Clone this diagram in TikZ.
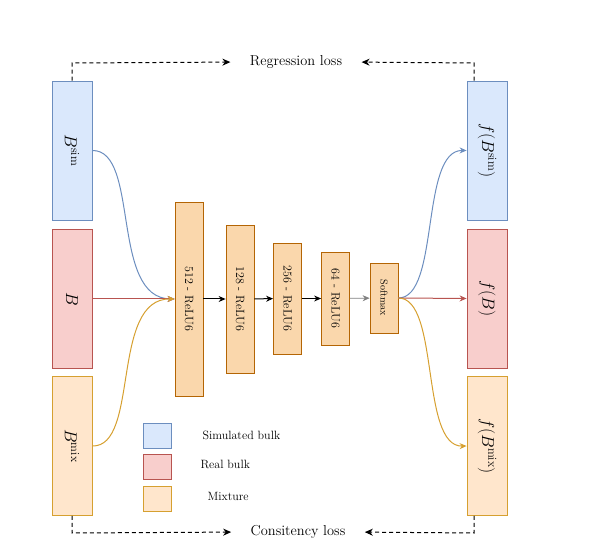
\documentclass[tikz,border=0pt]{standalone}
\usetikzlibrary{arrows.meta}
\definecolor{bfill}{HTML}{DAE8FC}\definecolor{bdraw}{HTML}{6C8EBF}
\definecolor{rfill}{HTML}{F8CECC}\definecolor{rdraw}{HTML}{B85450}
\definecolor{ofill}{HTML}{FFE6CC}\definecolor{odraw}{HTML}{D6A030}
\definecolor{hfill}{HTML}{FAD7AC}\definecolor{hdraw}{HTML}{B46504}
\begin{document}
\begin{tikzpicture}[x=1pt,y=-1pt,
 box/.style={draw, line width=0.8pt, minimum width=40pt, minimum height=139pt, inner sep=0pt, font=\LARGE},
 hid/.style={draw=hdraw, fill=hfill, line width=0.8pt, minimum width=28pt, inner sep=0pt, font=\large},
 leg/.style={draw, line width=0.8pt, minimum width=28pt, minimum height=25pt, inner sep=0pt},
 lt/.style={font=\large, anchor=west},
 con/.style={line width=1pt, -{Stealth[length=7pt,width=6pt]}},
 dsh/.style={dash pattern=on 4pt off 3pt, line width=1pt, -{Stealth[length=8pt,width=7pt]}}]
\useasboundingbox (0,0) rectangle (606,553);
\node[box,draw=bdraw,fill=bfill] (bs) at (72,150.5) {\rotatebox{-90}{$B^{\mathrm{sim}}$}};
\node[box,draw=rdraw,fill=rfill] (b) at (72,299) {\rotatebox{-90}{$B$}};
\node[box,draw=odraw,fill=ofill] (bm) at (72,446) {\rotatebox{-90}{$B^{\mathrm{mix}}$}};
\node[box,draw=bdraw,fill=bfill] (fs) at (487,150.5) {\rotatebox{-90}{$f(B^{\mathrm{sim}})$}};
\node[box,draw=rdraw,fill=rfill] (fb) at (487,298.5) {\rotatebox{-90}{$f(B)$}};
\node[box,draw=odraw,fill=ofill] (fm) at (487,446) {\rotatebox{-90}{$f(B^{\mathrm{mix}})$}};
\node[hid,minimum height=194pt] (h1) at (189,299) {\rotatebox{-90}{512 - ReLU6}};
\node[hid,minimum height=148pt] (h2) at (240,299) {\rotatebox{-90}{128 - ReLU6}};
\node[hid,minimum height=111pt] (h3) at (287.5,298.5) {\rotatebox{-90}{256 - ReLU6}};
\node[hid,minimum height=93pt] (h4) at (335.5,298.5) {\rotatebox{-90}{64 - ReLU6}};
\node[hid,minimum height=70pt,font=\normalsize] (sm) at (384,298) {\rotatebox{-90}{Softmax}};
\draw[con] (h1) -- (h2); \draw[con] (h2) -- (h3); \draw[con] (h3) -- (h4);
\draw[con,gray,line width=0.7pt] (h4) -- (sm);
\coordinate (in) at (h1.west);
\draw[con,bdraw] (bs.east) .. controls (140,150) and (110,298) .. (in);
\draw[con,rdraw] (b.east) -- (in);
\draw[con,odraw] (bm.east) .. controls (140,447) and (110,298) .. (in);
\draw[con,bdraw] (sm.east) .. controls (440,298) and (420,150) .. (fs.west);
\draw[con,rdraw] (sm.east) -- (fb.west);
\draw[con,odraw] (sm.east) .. controls (440,298) and (420,447) .. (fm.west);
\node[font=\Large] (rl) at (296,62) {Regression loss};
\node[font=\Large] (cl) at (298,532) {Consitency loss};
\coordinate (a1) at (72,63); \coordinate (a2) at (474,63);
\coordinate (c1) at (72,533); \coordinate (c2) at (474,533);
\draw[dsh,shorten >=16pt] (bs.north) -- (a1) -- (rl.west);
\draw[dsh,shorten >=16pt] (fs.north-|a2) -- (a2) -- (rl.east);
\draw[dsh,shorten >=16pt] (bm.south) -- (c1) -- (cl.west);
\draw[dsh,shorten >=16pt] (fm.south-|c2) -- (c2) -- (cl.east);
\node[leg,draw=bdraw,fill=bfill] (l1) at (157,435.5) {};
\node[leg,draw=rdraw,fill=rfill] (l2) at (157,466.5) {};
\node[leg,draw=odraw,fill=ofill] (l3) at (157,498.5) {};
\node[lt] (t1) at (199,435) {Simulated bulk};
\node[lt] (t2) at (197,464) {Real bulk};
\node[lt] (t3) at (204,496) {Mixture};
\end{tikzpicture}
\end{document}
